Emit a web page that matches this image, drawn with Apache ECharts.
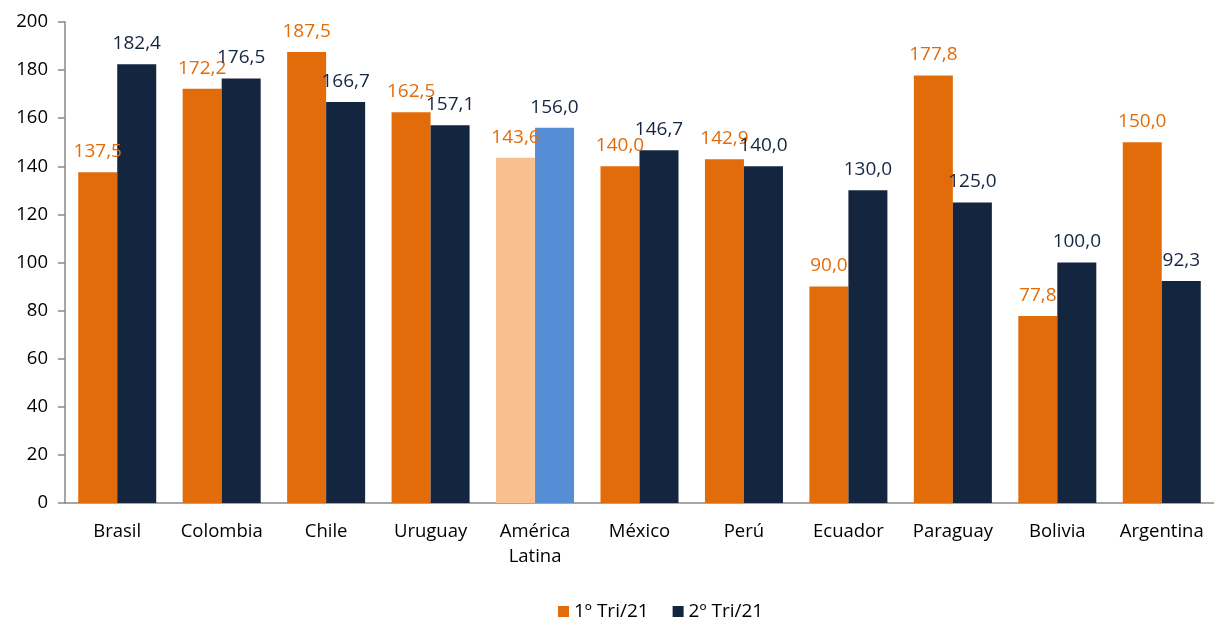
<!DOCTYPE html>
<html>
<head>
<meta charset="utf-8">
<script src="https://cdn.jsdelivr.net/npm/echarts@6/dist/echarts.min.js"></script>
<style>
  html, body { margin: 0; padding: 0; background: #fff; }
  #chart { width: 1214px; height: 621px; }
</style>
</head>
<body>
<div id="chart"></div>
<script>
// categorías y valores
const categories = ['Brasil', 'Colombia', 'Chile', 'Uruguay', 'América\nLatina', 'México', 'Perú', 'Ecuador', 'Paraguay', 'Bolivia', 'Argentina'];
const tri1 = [137.5, 172.2, 187.5, 162.5, 143.6, 140.0, 142.9, 90.0, 177.8, 77.8, 150.0];
const tri2 = [182.4, 176.5, 166.7, 157.1, 156.0, 146.7, 140.0, 130.0, 125.0, 100.0, 92.3];
const seriesNames = ['1º Tri/21', '2º Tri/21'];

const ORANGE = '#E36C0A';
const NAVY = '#14253F';
const HIGHLIGHT = { 'América\nLatina': ['#F9C08F', '#558ED5'] };
const FONT = 'Open Sans';

function fmt(v) {
    return v.toFixed(1).replace('.', ',');
}

function buildData(values, idx) {
    return values.map((v, i) => {
        const hl = HIGHLIGHT[categories[i]];
        return hl ? { value: v, itemStyle: { color: hl[idx] } } : v;
    });
}

function makeSeries(values, idx, color) {
    return {
        name: seriesNames[idx],
        type: 'bar',
        barWidth: 39,
        barGap: '0%',
        data: buildData(values, idx),
        itemStyle: { color: color },
        label: {
            show: true,
            position: 'top',
            distance: 11,
            color: color,
            fontFamily: FONT,
            fontSize: 19,
            formatter: p => fmt(p.value)
        }
    };
}

const chart = echarts.init(document.getElementById('chart'));
chart.setOption({
    animation: false,
    textStyle: { fontFamily: FONT },
    grid: { left: 65, right: 0, top: 22, bottom: 118 },
    legend: {
        top: 597,
        left: 553,
        itemWidth: 11,
        itemHeight: 11,
        itemGap: 24,
        icon: 'rect',
        textStyle: { fontFamily: FONT, fontSize: 19, color: '#000' },
        data: seriesNames
    },
    xAxis: {
        type: 'category',
        data: categories,
        axisLine: { lineStyle: { color: '#898989', width: 1.5 } },
        axisTick: { interval: 0, length: 7, lineStyle: { color: '#898989', width: 1.5 } },
        axisLabel: { interval: 0, color: '#000', fontSize: 18.5, fontFamily: FONT, margin: 16, lineHeight: 25 }
    },
    yAxis: {
        type: 'value',
        min: 0,
        max: 200,
        interval: 20,
        splitLine: { show: false },
        axisLine: { show: true, lineStyle: { color: '#898989', width: 1.5 } },
        axisTick: { show: true, length: 7, lineStyle: { color: '#898989', width: 1.5 } },
        axisLabel: { color: '#000', fontSize: 18.5, fontFamily: FONT, margin: 17 }
    },
    series: [
        makeSeries(tri1, 0, ORANGE),
        makeSeries(tri2, 1, NAVY)
    ]
});
</script>
</body>
</html>
